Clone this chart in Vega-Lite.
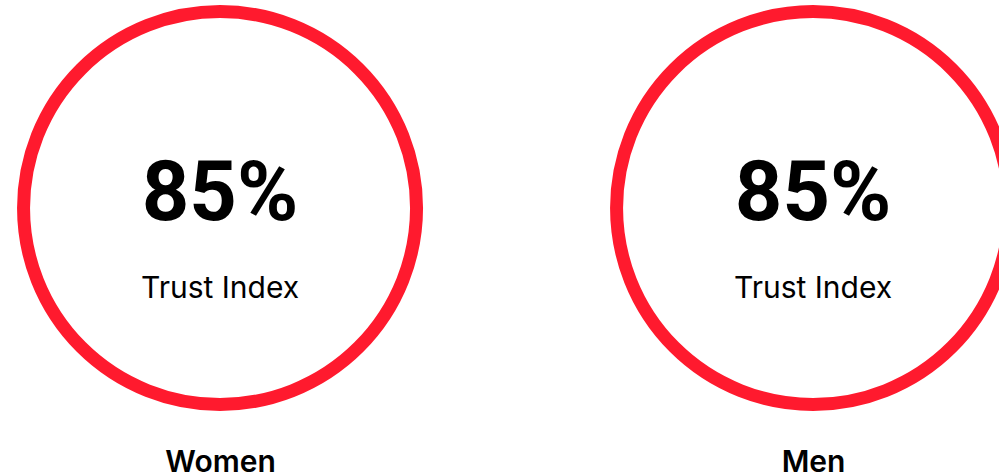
{
  "$schema": "https://vega.github.io/schema/vega-lite/v6.json",
  "autosize": {"type": "none"},
  "padding": {"left": 0, "right": 0, "top": 0, "bottom": 60},
  "width": 999,
  "height": 416,
  "background": "white",
  "config": {"view": {"stroke": null}},
  "data": {"values": [
    {"group": "Women", "value": "85%", "label": "Trust Index"},
    {"group": "Men", "value": "85%", "label": "Trust Index"}
  ]},
  "encoding": {
    "x": {
      "field": "group",
      "type": "nominal",
      "sort": ["Women", "Men"],
      "scale": {"type": "point", "padding": 0.3423, "align": 0.542},
      "axis": {
        "title": null,
        "domain": false,
        "ticks": false,
        "labelAngle": 0,
        "labelFont": "Inter",
        "labelFontWeight": 600,
        "labelFontSize": 30,
        "labelColor": "#000000",
        "labelPadding": 31,
        "labelBaseline": "top"
      }
    }
  },
  "layer": [
    {
      "mark": {"type": "point", "filled": false, "size": 154449, "stroke": "#FF1A2E", "strokeWidth": 13, "opacity": 1}
    },
    {
      "mark": {"type": "text", "font": "Roboto", "fontWeight": 700, "fontSize": 83, "dy": 12, "baseline": "alphabetic", "align": "center", "color": "#000000"},
      "encoding": {"text": {"field": "value"}}
    },
    {
      "mark": {"type": "text", "font": "Inter", "fontWeight": 400, "fontSize": 30, "dy": 90, "baseline": "alphabetic", "align": "center", "color": "#000000"},
      "encoding": {"text": {"field": "label"}}
    }
  ]
}
